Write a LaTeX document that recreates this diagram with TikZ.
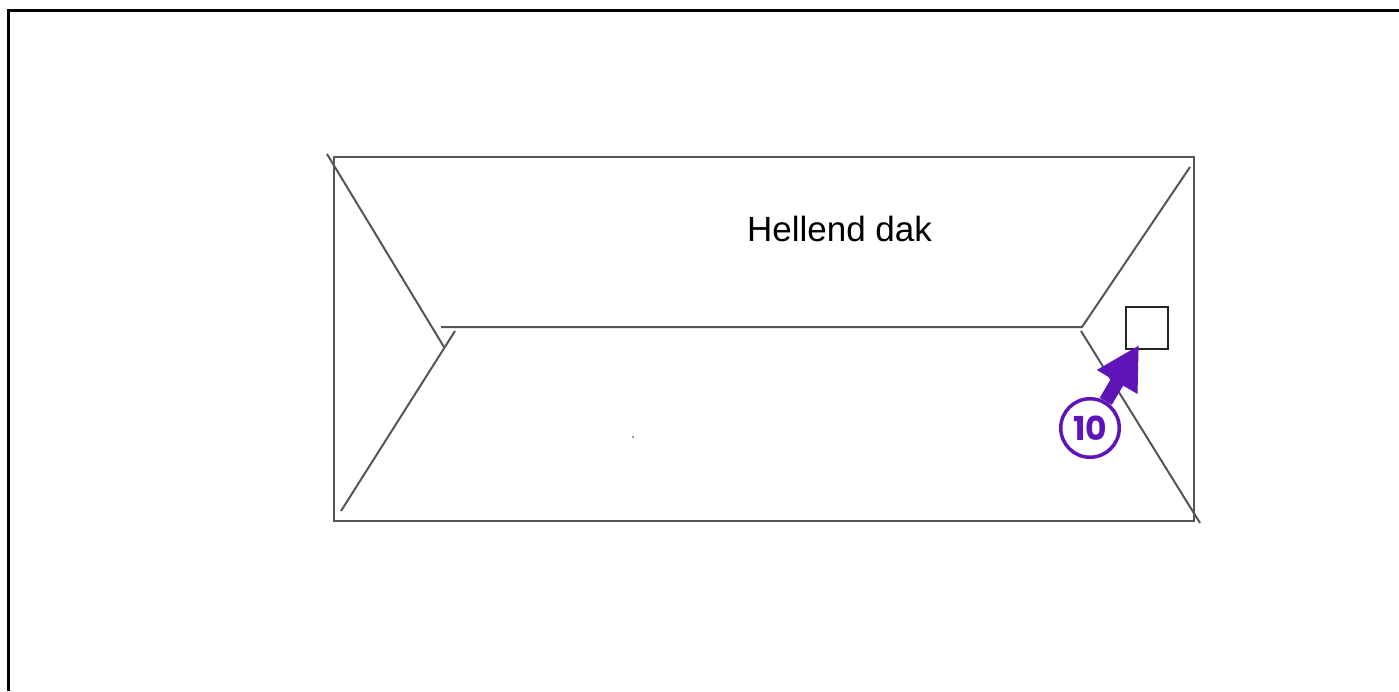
\documentclass[tikz,border=0pt]{standalone}
\usepackage{xcolor}
\usepackage{fontspec}
\setmainfont{Liberation Sans}
\newfontfamily\badgefont{Poppins}
\usetikzlibrary{arrows.meta}
\definecolor{roofgray}{HTML}{555555}
\definecolor{badgepurple}{HTML}{5F14B8}
\tikzset{
  roof line/.style={draw=roofgray,line width=2pt},
  frame line/.style={draw=black,line width=3pt},
  label node/.style={inner sep=0pt,font=\fontsize{35}{40}\selectfont},
  hatch node/.style={rectangle,draw=black!85,line width=2pt,inner sep=0pt,minimum width=42pt,minimum height=42pt},
  badge node/.style={circle,draw=badgepurple,line width=3.5pt,fill=white,inner sep=0pt,minimum size=58.5pt,text=badgepurple,font=\badgefont\bfseries\fontsize{33}{36}\selectfont}
}
\begin{document}
\begin{tikzpicture}[x=1pt,y=-1pt]
  \useasboundingbox (0,0) rectangle (1399,691);
  \draw [frame line] (8.5,691) -- (8.5,10.5) -- (1399,10.5);
  % roof outline and ridges
  \draw [roof line] (334,157) rectangle (1194,521);
  \draw [roof line] (327,154) -- (444,347);
  \draw [roof line] (455,331) -- (341,511);
  \draw [roof line] (441,327) -- (1082,327) -- (1190,167);
  \draw [roof line] (1081,331) -- (1200,523);
  \fill [roofgray] (633,437) circle (1pt);
  \node [label node] (label) at (839.5,229) {Hellend dak};
  \node [hatch node] (hatch) at (1147,328) {};
  \node [badge node] (badge) at (1090,428) {10};
  \coordinate (tip) at (1139,345);
  \draw [-{Triangle[length=43pt,width=44pt]},draw=badgepurple,fill=badgepurple,line width=14pt] (badge) -- (tip);
\end{tikzpicture}
\end{document}
